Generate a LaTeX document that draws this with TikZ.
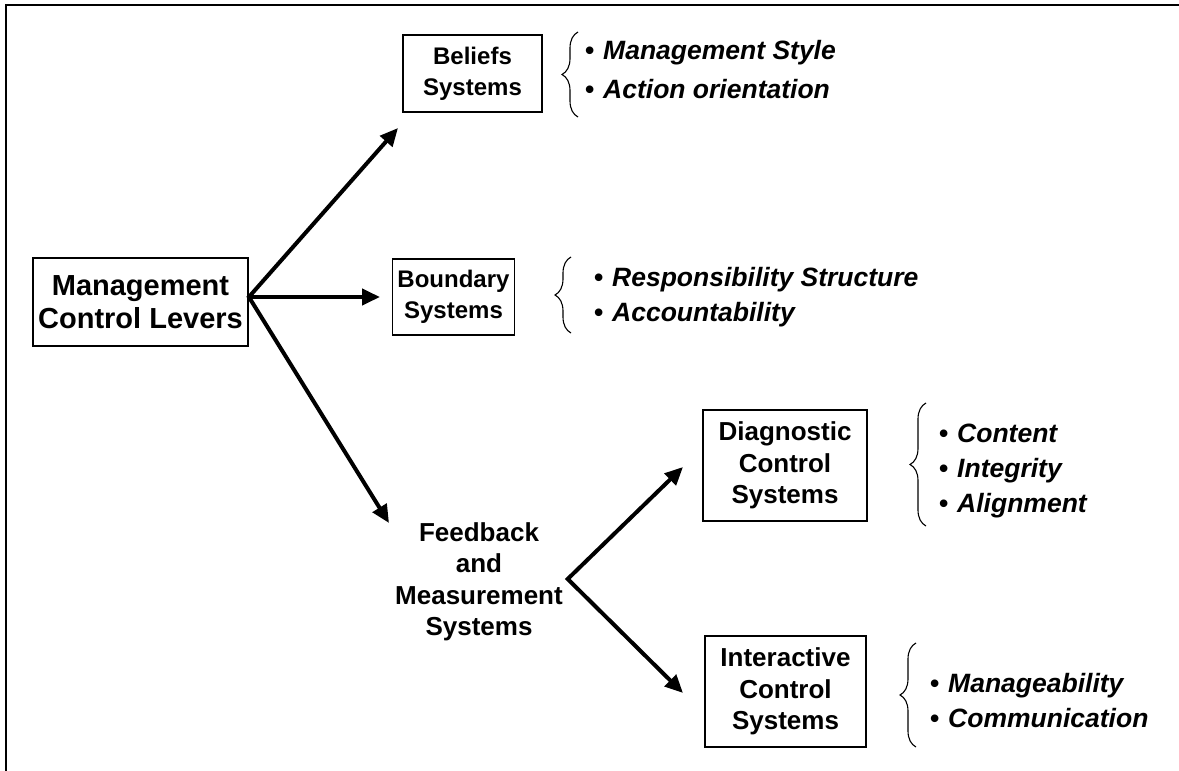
\documentclass[tikz,border=0pt]{standalone}
\usepackage{fontspec}
\setmainfont{Liberation Sans}
\usetikzlibrary{arrows.meta,decorations.pathreplacing}
\newcommand{\itm}[1]{\makebox[18pt][l]{\upshape •}#1}
\begin{document}
\begin{tikzpicture}[x=1pt,y=-1pt,
  box/.style={draw, line width=1.8pt, align=center, inner sep=0pt,
    font=\fontsize{26}{31.5}\selectfont\bfseries},
  smallbox/.style={box, font=\fontsize{24}{31}\selectfont\bfseries},
  items/.style={align=left, anchor=west, inner sep=0pt,
    font=\fontsize{26.5}{35}\selectfont\bfseries\itshape},
  arr/.style={line width=4pt, line join=miter},
  brc/.style={decorate, decoration={brace, amplitude=16pt, aspect=0.5}, line width=1.1pt}]
\clip (0,0) rectangle (1179,771);
\useasboundingbox (0,0) rectangle (1179,771);
\draw[line width=1.6pt] (6,5) rectangle (1300,900);

% boxes
\node[box, minimum width=215pt, minimum height=88pt,
      font=\fontsize{29}{33}\selectfont\bfseries] (mcl) at (140.5,302) {Management\\Control Levers};
\node[smallbox, minimum width=139pt, minimum height=77pt] (bel) at (472.5,73.5) {Beliefs\\Systems};
\node[smallbox, minimum width=122pt, minimum height=76pt] (bnd) at (453.5,297) {Boundary\\Systems};
\node[box, draw=none] (fms) at (479,582) {Feedback\\and\\Measurement\\Systems};
\node[box, minimum width=164pt, minimum height=111pt] (dcs) at (785,465.5) {Diagnostic\\Control\\Systems};
\node[box, minimum width=161pt, minimum height=111pt] (ics) at (785.5,691.5) {Interactive\\Control\\Systems};

% connectors
\coordinate (o) at ([yshift=5pt]mcl.east);
\coordinate (t1) at (398,128);
\coordinate (t2) at (380,297);
\coordinate (t3) at (389,523);
\draw[arr, {Triangle[length=18pt,width=16pt]}-{Triangle[length=18pt,width=16pt]}] (t1) -- (o) -- (t3);
\draw[arr, -{Triangle[length=18pt,width=16pt]}] (o) -- (t2);
\coordinate (b) at ([xshift=4pt,yshift=3pt]fms.east);
\coordinate (t4) at (683,467);
\coordinate (t5) at (683,693);
\draw[arr, {Triangle[length=18pt,width=16pt]}-{Triangle[length=18pt,width=16pt]}] (t4) -- (b) -- (t5);

% braces
\draw[brc] (578,117) -- (578,32);
\draw[brc] (571,333) -- (571,257);
\draw[brc] (926,526) -- (926,403);
\draw[brc] (916,747) -- (916,643);

% item lists
\node[items, font=\fontsize{26.5}{39}\selectfont\bfseries\itshape] (bi) at (585,70) {\itm{Management Style}\\\itm{Action orientation}};
\node[items] (ni) at (594,297) {\itm{Responsibility Structure}\\\itm{Accountability}};
\node[items] (di) at (939,471) {\itm{Content}\\\itm{Integrity}\\\itm{Alignment}};
\node[items] (ii) at (930,701) {\itm{Manageability}\\\itm{Communication}};
\end{tikzpicture}
\end{document}
